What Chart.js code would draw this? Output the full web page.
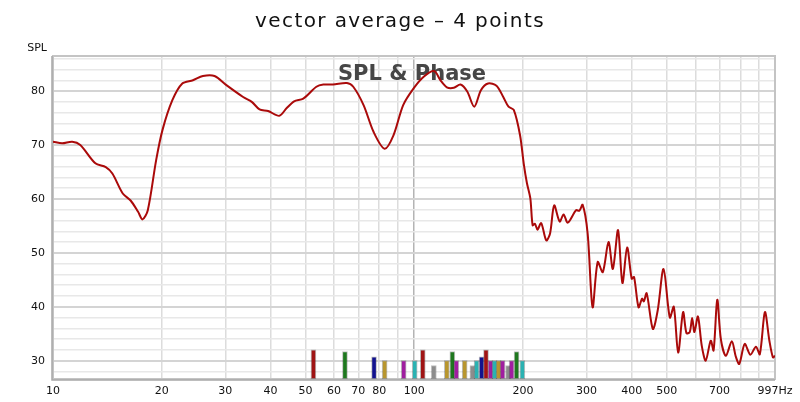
<!DOCTYPE html>
<html>
<head>
<meta charset="utf-8">
<title>vector average - 4 points</title>
<script src="https://cdn.jsdelivr.net/npm/chart.js@4/dist/chart.umd.min.js"></script>
<style>
	html, body { margin: 0; padding: 0; background: #fff; }
	#box { width: 800px; height: 402px; }
</style>
</head>
<body>
<div id="box"><canvas id="splChart" width="800" height="402"></canvas></div>
<script>
// frequency response
var freqs = [10, 10.6, 11.3, 11.9, 13.1, 14.0, 14.6, 15.6, 16.4, 17.2, 17.7, 18.3, 19.3, 20.1, 21.4, 22.8, 24.4, 26.0, 28.0, 30.2,
	33.6, 35.5, 37.3, 39.4, 42.3, 44.3, 46.5, 49.3, 53.6, 56.0, 59.6, 65.1, 67.8, 72.4, 77.2, 82.8, 87.6, 93.2, 99.6, 106.4,
	113.5, 118.2, 123.1, 128.7, 134.3, 140.2, 146.6, 153.1, 160.1, 168.9, 176.4, 182.4, 188.6, 196.3, 201, 205, 209.6, 212.7, 215.8, 219.3,
	224.6, 232, 237.7, 244, 252.7, 259.1, 266.1, 280.5, 286.4, 292.6, 302, 311.7, 322, 332.6, 345, 354.7, 366.6, 377, 388.5, 399.9,
	406, 417.8, 427.3, 432, 440, 457.7, 472, 490, 510, 523, 537.8, 555, 567, 579, 588, 596.6, 610, 625, 641, 662,
	674, 690, 706, 729, 757, 777, 794, 822, 852, 883, 905, 935, 962, 984, 997];
var splValues = [70.6, 70.3, 70.6, 70.0, 66.6, 65.9, 64.7, 61.0, 59.7, 57.6, 56.2, 57.9, 67.2, 72.8, 78.3, 81.4, 82.0, 82.8, 82.8, 81.1,
	78.9, 78.0, 76.6, 76.3, 75.4, 76.8, 78.1, 78.6, 80.8, 81.2, 81.2, 81.5, 80.8, 77.4, 72.4, 69.3, 71.8, 77.4, 80.5, 82.7,
	83.7, 82.0, 80.7, 80.6, 81.2, 79.9, 77.1, 80.2, 81.4, 81.0, 78.9, 77.1, 76.5, 71.8, 66.5, 63.0, 60.1, 55.1, 55.4, 54.3,
	55.5, 52.3, 53.6, 58.8, 55.8, 57.1, 55.6, 57.9, 57.8, 58.9, 53.6, 39.9, 48.3, 46.4, 52.0, 47.0, 54.2, 44.4, 51.0, 45.2,
	45.5, 39.9, 41.5, 41.0, 42.5, 35.9, 39.3, 47.0, 38.0, 40.0, 31.5, 39.0, 35.1, 35.3, 37.9, 35.3, 38.2, 32.8, 30.0, 33.7,
	31.9, 41.3, 34.0, 30.9, 33.6, 30.7, 29.4, 33.1, 31.1, 32.6, 31.2, 39.0, 33.7, 30.6, 30.9];

// little coloured markers along the bottom
var barFreqs = [52.6, 64.3, 77.4, 82.8, 93.5, 100.3, 105.6, 113.3, 123.1, 127.5, 130.8, 137.9, 144.9, 148.8, 153.6, 158.0,
	162.6, 166.8, 171.2, 175.6, 181.9, 186.0, 192.0, 199.2];
var barTops = [32.0, 31.7, 30.7, 30.0, 30.0, 30.0, 32.0, 29.1, 30.0, 31.7, 30.0, 30.0, 29.1, 30.0, 30.7, 32.0,
	30.0, 30.0, 30.0, 30.0, 29.1, 30.0, 31.7, 30.0];
var barColors = ['#a01414', '#1e781e', '#12128e', '#b8962e', '#a01ea0', '#2ab2b2', '#a01414', '#8c8c8c', '#b8962e', '#1e781e', '#a01ea0', '#b8962e',
	'#8c8c8c', '#2ab2b2', '#12128e', '#a01414', '#a01ea0', '#2ab2b2', '#b8962e', '#a01ea0', '#8c8c8c', '#a01ea0', '#1e781e', '#2ab2b2'];

var xTickValues = [10, 20, 30, 40, 50, 60, 70, 80, 90, 100, 200, 300, 400, 500, 600, 700, 800, 900, 997];
var xTickLabels = ['10', '20', '30', '40', '50', '60', '70', '80', '', '100', '200', '300', '400', '500', '', '700', '', '', '997Hz'];
var yTickValues = [28, 30, 32, 34, 36, 38, 40, 42, 44, 46, 48, 50, 52, 54, 56, 58, 60, 62, 64, 66, 68, 70, 72, 74, 76, 78, 80, 82, 84, 86];

var yMin = 26.6;
var yMax = 86.5;

var decorPlugin = {
	id : 'decor',
	beforeDatasetsDraw : function(chart) {
		var ctx = chart.ctx;
		var a = chart.chartArea;
		ctx.save();
		// watermark
		ctx.fillStyle = '#464646';
		ctx.font = 'bold 21px "DejaVu Sans"';
		ctx.textAlign = 'center';
		ctx.textBaseline = 'alphabetic';
		ctx.fillText('SPL & Phase', 412, 80);
		// frame
		ctx.strokeStyle = '#c4c4c4';
		ctx.lineWidth = 2;
		ctx.strokeRect(a.left, a.top, a.right - a.left, a.bottom - a.top);
		ctx.strokeStyle = '#a8a8a8';
		ctx.lineWidth = 1.5;
		ctx.beginPath();
		ctx.moveTo(a.left - 1, a.top);
		ctx.lineTo(a.left - 1, a.bottom + 1);
		ctx.lineTo(a.right, a.bottom + 1);
		ctx.stroke();
		ctx.restore();
	},
	afterDraw : function(chart) {
		var ctx = chart.ctx;
		ctx.save();
		ctx.fillStyle = '#111';
		ctx.font = '20px "DejaVu Sans"';
		ctx.letterSpacing = '1.4px';
		ctx.textAlign = 'center';
		ctx.textBaseline = 'alphabetic';
		ctx.fillText('vector average \u2013 4 points', 400, 27);
		ctx.letterSpacing = '0px';
		ctx.font = '11px "DejaVu Sans"';
		ctx.textAlign = 'right';
		ctx.fillText('SPL', 47, 51);
		ctx.restore();
	}
};

function setSplChart() {
	var linePoints = freqs.map(function(f, i) {
		return { x : f, y : splValues[i] };
	});
	var barPoints = barFreqs.map(function(f, i) {
		return { x : f, y : [ yMin, barTops[i] ] };
	});
	var config = {
		type : 'line',
		data : {
			datasets : [ {
				type : 'line',
				data : linePoints,
				borderColor : '#aa0a0a',
				borderWidth : 2,
				pointRadius : 0,
				tension : 0.3,
				fill : false,
				order : 0
			}, {
				type : 'bar',
				data : barPoints,
				backgroundColor : barColors,
				borderColor : 'rgba(0,0,0,0.25)',
				borderWidth : 1,
				borderSkipped : false,
				barThickness : 5,
				order : 1
			} ]
		},
		options : {
			responsive : false,
			animation : false,
			layout : {
				padding : { top : 56, right : 25, left : 0, bottom : 0 }
			},
			plugins : {
				legend : { display : false },
				title : { display : false },
				tooltip : { enabled : false }
			},
			scales : {
				x : {
					type : 'logarithmic',
					min : 10,
					max : 997,
					offset : false,
					border : { display : false },
					grid : {
						offset : false,
						drawTicks : false,
						lineWidth : 1.5,
						color : function(c) {
							return c.tick && c.tick.value === 100 ? '#b4b4b4' : '#dcdcdc';
						}
					},
					afterBuildTicks : function(scale) {
						scale.ticks = xTickValues.map(function(v) {
							return { value : v };
						});
					},
					afterFit : function(scale) {
						scale.height = 23;
					},
					ticks : {
						autoSkip : false,
						maxRotation : 0,
						padding : 6,
						color : '#111',
						font : { family : 'DejaVu Sans', size : 11 },
						callback : function(value, index) {
							return xTickLabels[index];
						}
					}
				},
				y : {
					type : 'linear',
					min : yMin,
					max : yMax,
					border : { display : false },
					grid : {
						drawTicks : false,
						lineWidth : function(c) {
							return c.tick && c.tick.value % 10 === 0 ? 2 : 1.5;
						},
						color : function(c) {
							return c.tick && c.tick.value % 10 === 0 ? '#d4d4d4' : '#e8e8e8';
						}
					},
					afterBuildTicks : function(scale) {
						scale.ticks = yTickValues.map(function(v) {
							return { value : v };
						});
					},
					afterFit : function(scale) {
						scale.width = 53;
					},
					ticks : {
						autoSkip : false,
						padding : 8,
						color : '#111',
						font : { family : 'DejaVu Sans', size : 11 },
						callback : function(value) {
							return value % 10 === 0 ? String(value) : '';
						}
					}
				}
			}
		},
		plugins : [ decorPlugin ]
	};
	var ctx = document.getElementById('splChart').getContext('2d');
	window.splChart = new Chart(ctx, config);
}

setSplChart();
</script>
</body>
</html>
